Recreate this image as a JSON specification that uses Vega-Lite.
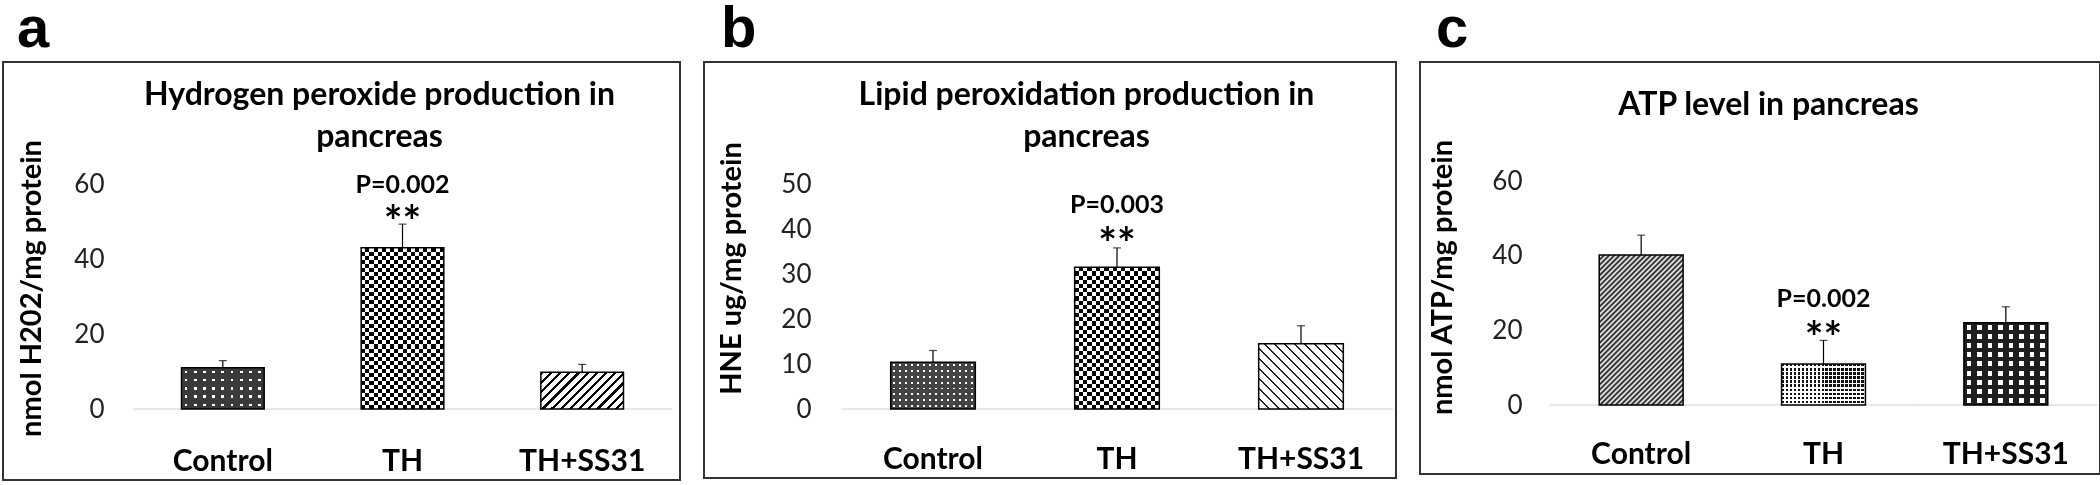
{
  "$schema": "https://vega.github.io/schema/vega-lite/v6.json",
  "background": "white",
  "padding": {"left": 2, "top": 0, "right": 0, "bottom": 0},
  "spacing": 22,
  "config": {
    "view": {"stroke": "#333", "strokeWidth": 2},
    "title": {"font": "Liberation Sans", "fontSize": 58, "fontWeight": "bold", "anchor": "start", "frame": "group", "baseline": "alphabetic", "offset": 3, "color": "#000"}
  },
  "datasets": {
    "a": [
      {"cat": "Control", "v": 11.0, "hi": 12.9, "p": "", "s": ""},
      {"cat": "TH", "v": 43.0, "hi": 49.3, "p": "P=0.002", "s": "**"},
      {"cat": "TH+SS31", "v": 9.8, "hi": 11.9, "p": "", "s": ""}
    ],
    "b": [
      {"cat": "Control", "v": 10.4, "hi": 13.0, "p": "", "s": ""},
      {"cat": "TH", "v": 31.5, "hi": 35.8, "p": "P=0.003", "s": "**"},
      {"cat": "TH+SS31", "v": 14.5, "hi": 18.5, "p": "", "s": ""}
    ],
    "c": [
      {"cat": "Control", "v": 40.2, "hi": 45.5, "p": "", "s": ""},
      {"cat": "TH", "v": 11.0, "hi": 17.3, "p": "P=0.002", "s": "**"},
      {"cat": "TH+SS31", "v": 22.0, "hi": 26.3, "p": "", "s": ""}
    ]
  },
  "hconcat": [
    {
      "title": {"text": "a", "dx": 14},
      "width": 677, "height": 418,
      "data": {"name": "a"},
      "resolve": {"axis": {"x": "independent"}},
      "layer": [
        {
          "mark": {"type": "tick", "orient": "horizontal", "size": 180, "thickness": 1.5, "color": "#d4d4d4"},
          "encoding": {
            "x": {"field": "cat", "type": "nominal", "sort": null, "scale": {"domain": ["Control", "TH", "TH+SS31"], "range": [130, 669], "paddingInner": 0.54, "paddingOuter": 0.27},
                  "axis": {"orient": "bottom", "title": null, "domain": false, "ticks": false, "labelPadding": 0, "offset": -10, "labelBaseline": "alphabetic", "labelAngle": 0, "labelFont": "Lato", "labelFontSize": 30, "labelFontWeight": "bold", "labelColor": "#000"}},
            "y": {"datum": 0, "type": "quantitative", "scale": {"domain": [0, 60], "range": [347, 122], "nice": false, "zero": false},
                  "axis": {"values": [0, 20, 40, 60], "grid": false, "domain": false, "ticks": false, "labelPadding": 0, "offset": -101, "labelFont": "Lato", "labelFontSize": 26, "labelColor": "#222",
                           "title": "nmol H202/mg protein", "titleFont": "Lato", "titleFontSize": 29, "titleFontWeight": "bold", "titleColor": "#000", "titleX": -58, "titleY": 226, "titleAngle": 270, "titleBaseline": "bottom", "titleAlign": "center"}}
          }
        },
        {
          "transform": [{"filter": "datum.cat == 'Control'"}],
          "mark": {"type": "bar", "fill": {"gradient": "linear", "x1": 0, "y1": 0, "x2": 1, "y2": 0, "stops": [
            {"offset":0,"color":"#3a3a3a"},{"offset":0.0389,"color":"#3a3a3a"},{"offset":0.0389,"color":"#fff"},{"offset":0.0722,"color":"#fff"},{"offset":0.0722,"color":"#3a3a3a"},{"offset":0.15,"color":"#3a3a3a"},{"offset":0.15,"color":"#fff"},{"offset":0.1833,"color":"#fff"},{"offset":0.1833,"color":"#3a3a3a"},{"offset":0.2611,"color":"#3a3a3a"},{"offset":0.2611,"color":"#fff"},{"offset":0.2944,"color":"#fff"},{"offset":0.2944,"color":"#3a3a3a"},{"offset":0.3722,"color":"#3a3a3a"},{"offset":0.3722,"color":"#fff"},{"offset":0.4056,"color":"#fff"},{"offset":0.4056,"color":"#3a3a3a"},{"offset":0.4833,"color":"#3a3a3a"},{"offset":0.4833,"color":"#fff"},{"offset":0.5167,"color":"#fff"},{"offset":0.5167,"color":"#3a3a3a"},{"offset":0.5944,"color":"#3a3a3a"},{"offset":0.5944,"color":"#fff"},{"offset":0.6278,"color":"#fff"},{"offset":0.6278,"color":"#3a3a3a"},{"offset":0.7056,"color":"#3a3a3a"},{"offset":0.7056,"color":"#fff"},{"offset":0.7389,"color":"#fff"},{"offset":0.7389,"color":"#3a3a3a"},{"offset":0.8167,"color":"#3a3a3a"},{"offset":0.8167,"color":"#fff"},{"offset":0.85,"color":"#fff"},{"offset":0.85,"color":"#3a3a3a"},{"offset":0.9278,"color":"#3a3a3a"},{"offset":0.9278,"color":"#fff"},{"offset":0.9611,"color":"#fff"},{"offset":0.9611,"color":"#3a3a3a"},{"offset":1,"color":"#3a3a3a"}]}},
          "encoding": {"x": {"field": "cat", "type": "nominal", "axis": null}, "y": {"field": "v", "type": "quantitative"}}
        },
        {
          "transform": [{"filter": "datum.cat == 'Control'"}],
          "mark": {"type": "bar", "blend": "darken", "fill": {"gradient": "linear", "x1": 0, "y1": 0, "x2": 0, "y2": 1, "stops": [
            {"offset":0,"color":"#3a3a3a"},{"offset":0.07,"color":"#3a3a3a"},{"offset":0.07,"color":"#fff"},{"offset":0.13,"color":"#fff"},{"offset":0.13,"color":"#3a3a3a"},{"offset":0.27,"color":"#3a3a3a"},{"offset":0.27,"color":"#fff"},{"offset":0.33,"color":"#fff"},{"offset":0.33,"color":"#3a3a3a"},{"offset":0.47,"color":"#3a3a3a"},{"offset":0.47,"color":"#fff"},{"offset":0.53,"color":"#fff"},{"offset":0.53,"color":"#3a3a3a"},{"offset":0.67,"color":"#3a3a3a"},{"offset":0.67,"color":"#fff"},{"offset":0.73,"color":"#fff"},{"offset":0.73,"color":"#3a3a3a"},{"offset":0.87,"color":"#3a3a3a"},{"offset":0.87,"color":"#fff"},{"offset":0.93,"color":"#fff"},{"offset":0.93,"color":"#3a3a3a"},{"offset":1,"color":"#3a3a3a"}]}},
          "encoding": {"x": {"field": "cat", "type": "nominal", "axis": null}, "y": {"field": "v", "type": "quantitative"}}
        },
        {
          "transform": [{"filter": "datum.cat == 'TH'"}],
          "mark": {"type": "bar", "fill": {"gradient": "linear", "x1": 0, "y1": 0, "x2": 1, "y2": 0, "stops": [
            {"offset":0,"color":"#000"},{"offset":0.05,"color":"#000"},{"offset":0.05,"color":"#fff"},{"offset":0.1,"color":"#fff"},{"offset":0.1,"color":"#000"},{"offset":0.15,"color":"#000"},{"offset":0.15,"color":"#fff"},{"offset":0.2,"color":"#fff"},{"offset":0.2,"color":"#000"},{"offset":0.25,"color":"#000"},{"offset":0.25,"color":"#fff"},{"offset":0.3,"color":"#fff"},{"offset":0.3,"color":"#000"},{"offset":0.35,"color":"#000"},{"offset":0.35,"color":"#fff"},{"offset":0.4,"color":"#fff"},{"offset":0.4,"color":"#000"},{"offset":0.45,"color":"#000"},{"offset":0.45,"color":"#fff"},{"offset":0.5,"color":"#fff"},{"offset":0.5,"color":"#000"},{"offset":0.55,"color":"#000"},{"offset":0.55,"color":"#fff"},{"offset":0.6,"color":"#fff"},{"offset":0.6,"color":"#000"},{"offset":0.65,"color":"#000"},{"offset":0.65,"color":"#fff"},{"offset":0.7,"color":"#fff"},{"offset":0.7,"color":"#000"},{"offset":0.75,"color":"#000"},{"offset":0.75,"color":"#fff"},{"offset":0.8,"color":"#fff"},{"offset":0.8,"color":"#000"},{"offset":0.85,"color":"#000"},{"offset":0.85,"color":"#fff"},{"offset":0.9,"color":"#fff"},{"offset":0.9,"color":"#000"},{"offset":0.95,"color":"#000"},{"offset":0.95,"color":"#fff"},{"offset":1,"color":"#fff"}]}},
          "encoding": {"x": {"field": "cat", "type": "nominal", "axis": null}, "y": {"field": "v", "type": "quantitative"}}
        },
        {
          "transform": [{"filter": "datum.cat == 'TH'"}],
          "mark": {"type": "bar", "blend": "difference", "fill": {"gradient": "linear", "x1": 0, "y1": 0, "x2": 0, "y2": 1, "stops": [
            {"offset":0,"color":"#fff"},{"offset":0.025,"color":"#fff"},{"offset":0.025,"color":"#000"},{"offset":0.05,"color":"#000"},
            {"offset":0.05,"color":"#fff"},{"offset":0.075,"color":"#fff"},{"offset":0.075,"color":"#000"},{"offset":0.1,"color":"#000"},
            {"offset":0.1,"color":"#fff"},{"offset":0.125,"color":"#fff"},{"offset":0.125,"color":"#000"},{"offset":0.15,"color":"#000"},
            {"offset":0.15,"color":"#fff"},{"offset":0.175,"color":"#fff"},{"offset":0.175,"color":"#000"},{"offset":0.2,"color":"#000"},
            {"offset":0.2,"color":"#fff"},{"offset":0.225,"color":"#fff"},{"offset":0.225,"color":"#000"},{"offset":0.25,"color":"#000"},
            {"offset":0.25,"color":"#fff"},{"offset":0.275,"color":"#fff"},{"offset":0.275,"color":"#000"},{"offset":0.3,"color":"#000"},
            {"offset":0.3,"color":"#fff"},{"offset":0.325,"color":"#fff"},{"offset":0.325,"color":"#000"},{"offset":0.35,"color":"#000"},
            {"offset":0.35,"color":"#fff"},{"offset":0.375,"color":"#fff"},{"offset":0.375,"color":"#000"},{"offset":0.4,"color":"#000"},
            {"offset":0.4,"color":"#fff"},{"offset":0.425,"color":"#fff"},{"offset":0.425,"color":"#000"},{"offset":0.45,"color":"#000"},
            {"offset":0.45,"color":"#fff"},{"offset":0.475,"color":"#fff"},{"offset":0.475,"color":"#000"},{"offset":0.5,"color":"#000"},
            {"offset":0.5,"color":"#fff"},{"offset":0.525,"color":"#fff"},{"offset":0.525,"color":"#000"},{"offset":0.55,"color":"#000"},
            {"offset":0.55,"color":"#fff"},{"offset":0.575,"color":"#fff"},{"offset":0.575,"color":"#000"},{"offset":0.6,"color":"#000"},
            {"offset":0.6,"color":"#fff"},{"offset":0.625,"color":"#fff"},{"offset":0.625,"color":"#000"},{"offset":0.65,"color":"#000"},
            {"offset":0.65,"color":"#fff"},{"offset":0.675,"color":"#fff"},{"offset":0.675,"color":"#000"},{"offset":0.7,"color":"#000"},
            {"offset":0.7,"color":"#fff"},{"offset":0.725,"color":"#fff"},{"offset":0.725,"color":"#000"},{"offset":0.75,"color":"#000"},
            {"offset":0.75,"color":"#fff"},{"offset":0.775,"color":"#fff"},{"offset":0.775,"color":"#000"},{"offset":0.8,"color":"#000"},
            {"offset":0.8,"color":"#fff"},{"offset":0.825,"color":"#fff"},{"offset":0.825,"color":"#000"},{"offset":0.85,"color":"#000"},
            {"offset":0.85,"color":"#fff"},{"offset":0.875,"color":"#fff"},{"offset":0.875,"color":"#000"},{"offset":0.9,"color":"#000"},
            {"offset":0.9,"color":"#fff"},{"offset":0.925,"color":"#fff"},{"offset":0.925,"color":"#000"},{"offset":0.95,"color":"#000"},
            {"offset":0.95,"color":"#fff"},{"offset":0.975,"color":"#fff"},{"offset":0.975,"color":"#000"},{"offset":1,"color":"#000"}]}},
          "encoding": {"x": {"field": "cat", "type": "nominal", "axis": null}, "y": {"field": "v", "type": "quantitative"}}
        },
        {
          "transform": [{"filter": "datum.cat == 'TH+SS31'"}],
          "mark": {"type": "bar", "fill": {"gradient": "linear", "x1": 0, "y1": 0, "x2": 1.2061, "y2": 0.5366, "stops": [
            {"offset":0,"color":"#000"},{"offset":0.0269,"color":"#000"},{"offset":0.0269,"color":"#fff"},{"offset":0.0769,"color":"#fff"},
            {"offset":0.0769,"color":"#000"},{"offset":0.1038,"color":"#000"},{"offset":0.1038,"color":"#fff"},{"offset":0.1538,"color":"#fff"},
            {"offset":0.1538,"color":"#000"},{"offset":0.1808,"color":"#000"},{"offset":0.1808,"color":"#fff"},{"offset":0.2308,"color":"#fff"},
            {"offset":0.2308,"color":"#000"},{"offset":0.2577,"color":"#000"},{"offset":0.2577,"color":"#fff"},{"offset":0.3077,"color":"#fff"},
            {"offset":0.3077,"color":"#000"},{"offset":0.3346,"color":"#000"},{"offset":0.3346,"color":"#fff"},{"offset":0.3846,"color":"#fff"},
            {"offset":0.3846,"color":"#000"},{"offset":0.4115,"color":"#000"},{"offset":0.4115,"color":"#fff"},{"offset":0.4615,"color":"#fff"},
            {"offset":0.4615,"color":"#000"},{"offset":0.4885,"color":"#000"},{"offset":0.4885,"color":"#fff"},{"offset":0.5385,"color":"#fff"},
            {"offset":0.5385,"color":"#000"},{"offset":0.5654,"color":"#000"},{"offset":0.5654,"color":"#fff"},{"offset":0.6154,"color":"#fff"},
            {"offset":0.6154,"color":"#000"},{"offset":0.6423,"color":"#000"},{"offset":0.6423,"color":"#fff"},{"offset":0.6923,"color":"#fff"},
            {"offset":0.6923,"color":"#000"},{"offset":0.7192,"color":"#000"},{"offset":0.7192,"color":"#fff"},{"offset":0.7692,"color":"#fff"},
            {"offset":0.7692,"color":"#000"},{"offset":0.7962,"color":"#000"},{"offset":0.7962,"color":"#fff"},{"offset":0.8462,"color":"#fff"},
            {"offset":0.8462,"color":"#000"},{"offset":0.8731,"color":"#000"},{"offset":0.8731,"color":"#fff"},{"offset":0.9231,"color":"#fff"},
            {"offset":0.9231,"color":"#000"},{"offset":0.95,"color":"#000"},{"offset":0.95,"color":"#fff"},{"offset":1,"color":"#fff"}]}},
          "encoding": {"x": {"field": "cat", "type": "nominal", "axis": null}, "y": {"field": "v", "type": "quantitative"}}
        },
        {
          "mark": {"type": "bar", "filled": false, "stroke": "#000", "strokeWidth": 1.5},
          "encoding": {"x": {"field": "cat", "type": "nominal", "axis": null}, "y": {"field": "v", "type": "quantitative"}}
        },
        {
          "mark": {"type": "rule", "color": "#000", "strokeWidth": 1.2},
          "encoding": {
            "x": {"field": "cat", "type": "nominal",
                  "axis": {"orient": "top", "labels": false, "ticks": false, "domain": false, "title": ["Hydrogen peroxide production in", "pancreas"], "titleFont": "Lato", "titleFontSize": 32, "titleFontWeight": "bold", "titleColor": "#000", "titleX": 376, "titleY": 42, "titleBaseline": "alphabetic", "titleAlign": "center", "titleLineHeight": 42}},
            "y": {"field": "v", "type": "quantitative"},
            "y2": {"field": "hi"}
          }
        },
        {
          "mark": {"type": "tick", "orient": "horizontal", "size": 8, "thickness": 1.2, "color": "#000"},
          "encoding": {"x": {"field": "cat", "type": "nominal", "axis": null}, "y": {"field": "hi", "type": "quantitative"}}
        },
        {
          "mark": {"type": "text", "font": "Lato", "fontSize": 25, "fontWeight": "bold", "baseline": "alphabetic", "dy": -31, "color": "#000"},
          "encoding": {"x": {"field": "cat", "type": "nominal", "axis": null}, "y": {"field": "hi", "type": "quantitative"}, "text": {"field": "p"}}
        },
        {
          "mark": {"type": "text", "font": "Lato", "fontSize": 44, "fontWeight": "bold", "baseline": "alphabetic", "dy": 13, "color": "#000"},
          "encoding": {"x": {"field": "cat", "type": "nominal", "axis": null}, "y": {"field": "hi", "type": "quantitative"}, "text": {"field": "s"}}
        }
      ]
    },
    {
      "title": {"text": "b", "dx": 17},
      "width": 692, "height": 416,
      "data": {"name": "b"},
      "resolve": {"axis": {"x": "independent"}},
      "layer": [
        {
          "mark": {"type": "tick", "orient": "horizontal", "size": 184, "thickness": 1.5, "color": "#d4d4d4"},
          "encoding": {
            "x": {"field": "cat", "type": "nominal", "sort": null, "scale": {"domain": ["Control", "TH", "TH+SS31"], "range": [137, 689], "paddingInner": 0.54, "paddingOuter": 0.27},
                  "axis": {"orient": "bottom", "title": null, "domain": false, "ticks": false, "labelPadding": 0, "offset": -10, "labelBaseline": "alphabetic", "labelAngle": 0, "labelFont": "Lato", "labelFontSize": 30, "labelFontWeight": "bold", "labelColor": "#000"}},
            "y": {"datum": 0, "type": "quantitative", "scale": {"domain": [0, 50], "range": [347, 122], "nice": false, "zero": false},
                  "axis": {"values": [0, 10, 20, 30, 40, 50], "grid": false, "domain": false, "ticks": false, "labelPadding": 0, "offset": -107, "labelFont": "Lato", "labelFontSize": 26, "labelColor": "#222",
                           "title": "HNE ug/mg protein", "titleFont": "Lato", "titleFontSize": 29, "titleFontWeight": "bold", "titleColor": "#000", "titleX": -65, "titleY": 206, "titleAngle": 270, "titleBaseline": "bottom", "titleAlign": "center"}}
          }
        },
        {
          "transform": [{"filter": "datum.cat == 'Control'"}],
          "mark": {"type": "bar", "fill": {"gradient": "linear", "x1": 0, "y1": 0, "x2": 1, "y2": 0, "stops": [
            {"offset":0,"color":"#444"},{"offset":0.025,"color":"#444"},{"offset":0.025,"color":"#fff"},{"offset":0.0464,"color":"#fff"},{"offset":0.0464,"color":"#444"},{"offset":0.0964,"color":"#444"},{"offset":0.0964,"color":"#fff"},{"offset":0.1178,"color":"#fff"},{"offset":0.1178,"color":"#444"},{"offset":0.1679,"color":"#444"},{"offset":0.1679,"color":"#fff"},{"offset":0.1893,"color":"#fff"},{"offset":0.1893,"color":"#444"},{"offset":0.2393,"color":"#444"},{"offset":0.2393,"color":"#fff"},{"offset":0.2607,"color":"#fff"},{"offset":0.2607,"color":"#444"},{"offset":0.3107,"color":"#444"},{"offset":0.3107,"color":"#fff"},{"offset":0.3321,"color":"#fff"},{"offset":0.3321,"color":"#444"},{"offset":0.3821,"color":"#444"},{"offset":0.3821,"color":"#fff"},{"offset":0.4036,"color":"#fff"},{"offset":0.4036,"color":"#444"},{"offset":0.4536,"color":"#444"},{"offset":0.4536,"color":"#fff"},{"offset":0.475,"color":"#fff"},{"offset":0.475,"color":"#444"},{"offset":0.525,"color":"#444"},{"offset":0.525,"color":"#fff"},{"offset":0.5464,"color":"#fff"},{"offset":0.5464,"color":"#444"},{"offset":0.5964,"color":"#444"},{"offset":0.5964,"color":"#fff"},{"offset":0.6179,"color":"#fff"},{"offset":0.6179,"color":"#444"},{"offset":0.6679,"color":"#444"},{"offset":0.6679,"color":"#fff"},{"offset":0.6893,"color":"#fff"},{"offset":0.6893,"color":"#444"},{"offset":0.7393,"color":"#444"},{"offset":0.7393,"color":"#fff"},{"offset":0.7607,"color":"#fff"},{"offset":0.7607,"color":"#444"},{"offset":0.8107,"color":"#444"},{"offset":0.8107,"color":"#fff"},{"offset":0.8321,"color":"#fff"},{"offset":0.8321,"color":"#444"},{"offset":0.8821,"color":"#444"},{"offset":0.8821,"color":"#fff"},{"offset":0.9036,"color":"#fff"},{"offset":0.9036,"color":"#444"},{"offset":0.9536,"color":"#444"},{"offset":0.9536,"color":"#fff"},{"offset":0.975,"color":"#fff"},{"offset":0.975,"color":"#444"},{"offset":1,"color":"#444"}]}},
          "encoding": {"x": {"field": "cat", "type": "nominal", "axis": null}, "y": {"field": "v", "type": "quantitative"}}
        },
        {
          "transform": [{"filter": "datum.cat == 'Control'"}],
          "mark": {"type": "bar", "blend": "darken", "fill": {"gradient": "linear", "x1": 0, "y1": 0, "x2": 0, "y2": 1, "stops": [
            {"offset":0,"color":"#444"},{"offset":0.0438,"color":"#444"},{"offset":0.0438,"color":"#fff"},{"offset":0.0813,"color":"#fff"},{"offset":0.0813,"color":"#444"},{"offset":0.1688,"color":"#444"},{"offset":0.1688,"color":"#fff"},{"offset":0.2063,"color":"#fff"},{"offset":0.2063,"color":"#444"},{"offset":0.2938,"color":"#444"},{"offset":0.2938,"color":"#fff"},{"offset":0.3313,"color":"#fff"},{"offset":0.3313,"color":"#444"},{"offset":0.4188,"color":"#444"},{"offset":0.4188,"color":"#fff"},{"offset":0.4563,"color":"#fff"},{"offset":0.4563,"color":"#444"},{"offset":0.5438,"color":"#444"},{"offset":0.5438,"color":"#fff"},{"offset":0.5813,"color":"#fff"},{"offset":0.5813,"color":"#444"},{"offset":0.6688,"color":"#444"},{"offset":0.6688,"color":"#fff"},{"offset":0.7063,"color":"#fff"},{"offset":0.7063,"color":"#444"},{"offset":0.7938,"color":"#444"},{"offset":0.7938,"color":"#fff"},{"offset":0.8313,"color":"#fff"},{"offset":0.8313,"color":"#444"},{"offset":0.9188,"color":"#444"},{"offset":0.9188,"color":"#fff"},{"offset":0.9563,"color":"#fff"},{"offset":0.9563,"color":"#444"},{"offset":1,"color":"#444"}]}},
          "encoding": {"x": {"field": "cat", "type": "nominal", "axis": null}, "y": {"field": "v", "type": "quantitative"}}
        },
        {
          "transform": [{"filter": "datum.cat == 'TH'"}],
          "mark": {"type": "bar", "fill": {"gradient": "linear", "x1": 0, "y1": 0, "x2": 1, "y2": 0, "stops": [
            {"offset":0,"color":"#000"},{"offset":0.05,"color":"#000"},{"offset":0.05,"color":"#fff"},{"offset":0.1,"color":"#fff"},{"offset":0.1,"color":"#000"},{"offset":0.15,"color":"#000"},{"offset":0.15,"color":"#fff"},{"offset":0.2,"color":"#fff"},{"offset":0.2,"color":"#000"},{"offset":0.25,"color":"#000"},{"offset":0.25,"color":"#fff"},{"offset":0.3,"color":"#fff"},{"offset":0.3,"color":"#000"},{"offset":0.35,"color":"#000"},{"offset":0.35,"color":"#fff"},{"offset":0.4,"color":"#fff"},{"offset":0.4,"color":"#000"},{"offset":0.45,"color":"#000"},{"offset":0.45,"color":"#fff"},{"offset":0.5,"color":"#fff"},{"offset":0.5,"color":"#000"},{"offset":0.55,"color":"#000"},{"offset":0.55,"color":"#fff"},{"offset":0.6,"color":"#fff"},{"offset":0.6,"color":"#000"},{"offset":0.65,"color":"#000"},{"offset":0.65,"color":"#fff"},{"offset":0.7,"color":"#fff"},{"offset":0.7,"color":"#000"},{"offset":0.75,"color":"#000"},{"offset":0.75,"color":"#fff"},{"offset":0.8,"color":"#fff"},{"offset":0.8,"color":"#000"},{"offset":0.85,"color":"#000"},{"offset":0.85,"color":"#fff"},{"offset":0.9,"color":"#fff"},{"offset":0.9,"color":"#000"},{"offset":0.95,"color":"#000"},{"offset":0.95,"color":"#fff"},{"offset":1,"color":"#fff"}]}},
          "encoding": {"x": {"field": "cat", "type": "nominal", "axis": null}, "y": {"field": "v", "type": "quantitative"}}
        },
        {
          "transform": [{"filter": "datum.cat == 'TH'"}],
          "mark": {"type": "bar", "blend": "difference", "fill": {"gradient": "linear", "x1": 0, "y1": 0, "x2": 0, "y2": 1, "stops": [
            {"offset":0,"color":"#fff"},{"offset":0.0294,"color":"#fff"},{"offset":0.0294,"color":"#000"},{"offset":0.0588,"color":"#000"},
            {"offset":0.0588,"color":"#fff"},{"offset":0.0882,"color":"#fff"},{"offset":0.0882,"color":"#000"},{"offset":0.1176,"color":"#000"},
            {"offset":0.1176,"color":"#fff"},{"offset":0.1471,"color":"#fff"},{"offset":0.1471,"color":"#000"},{"offset":0.1765,"color":"#000"},
            {"offset":0.1765,"color":"#fff"},{"offset":0.2059,"color":"#fff"},{"offset":0.2059,"color":"#000"},{"offset":0.2353,"color":"#000"},
            {"offset":0.2353,"color":"#fff"},{"offset":0.2647,"color":"#fff"},{"offset":0.2647,"color":"#000"},{"offset":0.2941,"color":"#000"},
            {"offset":0.2941,"color":"#fff"},{"offset":0.3235,"color":"#fff"},{"offset":0.3235,"color":"#000"},{"offset":0.3529,"color":"#000"},
            {"offset":0.3529,"color":"#fff"},{"offset":0.3824,"color":"#fff"},{"offset":0.3824,"color":"#000"},{"offset":0.4118,"color":"#000"},
            {"offset":0.4118,"color":"#fff"},{"offset":0.4412,"color":"#fff"},{"offset":0.4412,"color":"#000"},{"offset":0.4706,"color":"#000"},
            {"offset":0.4706,"color":"#fff"},{"offset":0.5,"color":"#fff"},{"offset":0.5,"color":"#000"},{"offset":0.5294,"color":"#000"},
            {"offset":0.5294,"color":"#fff"},{"offset":0.5588,"color":"#fff"},{"offset":0.5588,"color":"#000"},{"offset":0.5882,"color":"#000"},
            {"offset":0.5882,"color":"#fff"},{"offset":0.6176,"color":"#fff"},{"offset":0.6176,"color":"#000"},{"offset":0.6471,"color":"#000"},
            {"offset":0.6471,"color":"#fff"},{"offset":0.6765,"color":"#fff"},{"offset":0.6765,"color":"#000"},{"offset":0.7059,"color":"#000"},
            {"offset":0.7059,"color":"#fff"},{"offset":0.7353,"color":"#fff"},{"offset":0.7353,"color":"#000"},{"offset":0.7647,"color":"#000"},
            {"offset":0.7647,"color":"#fff"},{"offset":0.7941,"color":"#fff"},{"offset":0.7941,"color":"#000"},{"offset":0.8235,"color":"#000"},
            {"offset":0.8235,"color":"#fff"},{"offset":0.8529,"color":"#fff"},{"offset":0.8529,"color":"#000"},{"offset":0.8824,"color":"#000"},
            {"offset":0.8824,"color":"#fff"},{"offset":0.9118,"color":"#fff"},{"offset":0.9118,"color":"#000"},{"offset":0.9412,"color":"#000"},
            {"offset":0.9412,"color":"#fff"},{"offset":0.9706,"color":"#fff"},{"offset":0.9706,"color":"#000"},{"offset":1,"color":"#000"}]}},
          "encoding": {"x": {"field": "cat", "type": "nominal", "axis": null}, "y": {"field": "v", "type": "quantitative"}}
        },
        {
          "transform": [{"filter": "datum.cat == 'TH+SS31'"}],
          "mark": {"type": "bar", "fill": {"gradient": "linear", "x1": 0, "y1": 1, "x2": 1.1106, "y2": 0.1434, "stops": [
            {"offset":0,"color":"#222"},{"offset":0.0133,"color":"#222"},{"offset":0.0133,"color":"#fff"},{"offset":0.0667,"color":"#fff"},
            {"offset":0.0667,"color":"#222"},{"offset":0.08,"color":"#222"},{"offset":0.08,"color":"#fff"},{"offset":0.1333,"color":"#fff"},
            {"offset":0.1333,"color":"#222"},{"offset":0.1467,"color":"#222"},{"offset":0.1467,"color":"#fff"},{"offset":0.2,"color":"#fff"},
            {"offset":0.2,"color":"#222"},{"offset":0.2133,"color":"#222"},{"offset":0.2133,"color":"#fff"},{"offset":0.2667,"color":"#fff"},
            {"offset":0.2667,"color":"#222"},{"offset":0.28,"color":"#222"},{"offset":0.28,"color":"#fff"},{"offset":0.3333,"color":"#fff"},
            {"offset":0.3333,"color":"#222"},{"offset":0.3467,"color":"#222"},{"offset":0.3467,"color":"#fff"},{"offset":0.4,"color":"#fff"},
            {"offset":0.4,"color":"#222"},{"offset":0.4133,"color":"#222"},{"offset":0.4133,"color":"#fff"},{"offset":0.4667,"color":"#fff"},
            {"offset":0.4667,"color":"#222"},{"offset":0.48,"color":"#222"},{"offset":0.48,"color":"#fff"},{"offset":0.5333,"color":"#fff"},
            {"offset":0.5333,"color":"#222"},{"offset":0.5467,"color":"#222"},{"offset":0.5467,"color":"#fff"},{"offset":0.6,"color":"#fff"},
            {"offset":0.6,"color":"#222"},{"offset":0.6133,"color":"#222"},{"offset":0.6133,"color":"#fff"},{"offset":0.6667,"color":"#fff"},
            {"offset":0.6667,"color":"#222"},{"offset":0.68,"color":"#222"},{"offset":0.68,"color":"#fff"},{"offset":0.7333,"color":"#fff"},
            {"offset":0.7333,"color":"#222"},{"offset":0.7467,"color":"#222"},{"offset":0.7467,"color":"#fff"},{"offset":0.8,"color":"#fff"},
            {"offset":0.8,"color":"#222"},{"offset":0.8133,"color":"#222"},{"offset":0.8133,"color":"#fff"},{"offset":0.8667,"color":"#fff"},
            {"offset":0.8667,"color":"#222"},{"offset":0.88,"color":"#222"},{"offset":0.88,"color":"#fff"},{"offset":0.9333,"color":"#fff"},
            {"offset":0.9333,"color":"#222"},{"offset":0.9467,"color":"#222"},{"offset":0.9467,"color":"#fff"},{"offset":1,"color":"#fff"}]}},
          "encoding": {"x": {"field": "cat", "type": "nominal", "axis": null}, "y": {"field": "v", "type": "quantitative"}}
        },
        {
          "mark": {"type": "bar", "filled": false, "stroke": "#000", "strokeWidth": 1.5},
          "encoding": {"x": {"field": "cat", "type": "nominal", "axis": null}, "y": {"field": "v", "type": "quantitative"}}
        },
        {
          "mark": {"type": "rule", "color": "#000", "strokeWidth": 1.2},
          "encoding": {
            "x": {"field": "cat", "type": "nominal",
                  "axis": {"orient": "top", "labels": false, "ticks": false, "domain": false, "title": ["Lipid peroxidation production in", "pancreas"], "titleFont": "Lato", "titleFontSize": 32, "titleFontWeight": "bold", "titleColor": "#000", "titleX": 382, "titleY": 42, "titleBaseline": "alphabetic", "titleAlign": "center", "titleLineHeight": 42}},
            "y": {"field": "v", "type": "quantitative"},
            "y2": {"field": "hi"}
          }
        },
        {
          "mark": {"type": "tick", "orient": "horizontal", "size": 8, "thickness": 1.2, "color": "#000"},
          "encoding": {"x": {"field": "cat", "type": "nominal", "axis": null}, "y": {"field": "hi", "type": "quantitative"}}
        },
        {
          "mark": {"type": "text", "font": "Lato", "fontSize": 25, "fontWeight": "bold", "baseline": "alphabetic", "dy": -35, "color": "#000"},
          "encoding": {"x": {"field": "cat", "type": "nominal", "axis": null}, "y": {"field": "hi", "type": "quantitative"}, "text": {"field": "p"}}
        },
        {
          "mark": {"type": "text", "font": "Lato", "fontSize": 44, "fontWeight": "bold", "baseline": "alphabetic", "dy": 11, "color": "#000"},
          "encoding": {"x": {"field": "cat", "type": "nominal", "axis": null}, "y": {"field": "hi", "type": "quantitative"}, "text": {"field": "s"}}
        }
      ]
    },
    {
      "title": {"text": "c", "dx": 16},
      "width": 680, "height": 412,
      "data": {"name": "c"},
      "resolve": {"axis": {"x": "independent"}},
      "layer": [
        {
          "mark": {"type": "tick", "orient": "horizontal", "size": 183, "thickness": 1.5, "color": "#d4d4d4"},
          "encoding": {
            "x": {"field": "cat", "type": "nominal", "sort": null, "scale": {"domain": ["Control", "TH", "TH+SS31"], "range": [130, 677], "paddingInner": 0.54, "paddingOuter": 0.27},
                  "axis": {"orient": "bottom", "title": null, "domain": false, "ticks": false, "labelPadding": 0, "offset": -11, "labelBaseline": "alphabetic", "labelAngle": 0, "labelFont": "Lato", "labelFontSize": 30, "labelFontWeight": "bold", "labelColor": "#000"}},
            "y": {"datum": 0, "type": "quantitative", "scale": {"domain": [0, 60], "range": [343, 119], "nice": false, "zero": false},
                  "axis": {"values": [0, 20, 40, 60], "grid": false, "domain": false, "ticks": false, "labelPadding": 0, "offset": -102, "labelFont": "Lato", "labelFontSize": 26, "labelColor": "#222",
                           "title": "nmol ATP/mg protein", "titleFont": "Lato", "titleFontSize": 29, "titleFontWeight": "bold", "titleColor": "#000", "titleX": -65, "titleY": 215, "titleAngle": 270, "titleBaseline": "bottom", "titleAlign": "center"}}
          }
        },
        {
          "transform": [{"filter": "datum.cat == 'Control'"}],
          "mark": {"type": "bar", "fill": {"gradient": "linear", "x1": 0, "y1": 0, "x2": 0.6643, "y2": 1.1877, "stops": [
            {"offset":0,"color":"#111"},{"offset":0.0111,"color":"#fff"},{"offset":0.0222,"color":"#111"},{"offset":0.0333,"color":"#fff"},{"offset":0.0444,"color":"#111"},{"offset":0.0556,"color":"#fff"},{"offset":0.0667,"color":"#111"},{"offset":0.0778,"color":"#fff"},{"offset":0.0889,"color":"#111"},{"offset":0.1,"color":"#fff"},
            {"offset":0.1111,"color":"#111"},{"offset":0.1222,"color":"#fff"},{"offset":0.1333,"color":"#111"},{"offset":0.1444,"color":"#fff"},{"offset":0.1556,"color":"#111"},{"offset":0.1667,"color":"#fff"},{"offset":0.1778,"color":"#111"},{"offset":0.1889,"color":"#fff"},{"offset":0.2,"color":"#111"},{"offset":0.2111,"color":"#fff"},
            {"offset":0.2222,"color":"#111"},{"offset":0.2333,"color":"#fff"},{"offset":0.2444,"color":"#111"},{"offset":0.2556,"color":"#fff"},{"offset":0.2667,"color":"#111"},{"offset":0.2778,"color":"#fff"},{"offset":0.2889,"color":"#111"},{"offset":0.3,"color":"#fff"},{"offset":0.3111,"color":"#111"},{"offset":0.3222,"color":"#fff"},
            {"offset":0.3333,"color":"#111"},{"offset":0.3444,"color":"#fff"},{"offset":0.3556,"color":"#111"},{"offset":0.3667,"color":"#fff"},{"offset":0.3778,"color":"#111"},{"offset":0.3889,"color":"#fff"},{"offset":0.4,"color":"#111"},{"offset":0.4111,"color":"#fff"},{"offset":0.4222,"color":"#111"},{"offset":0.4333,"color":"#fff"},
            {"offset":0.4444,"color":"#111"},{"offset":0.4556,"color":"#fff"},{"offset":0.4667,"color":"#111"},{"offset":0.4778,"color":"#fff"},{"offset":0.4889,"color":"#111"},{"offset":0.5,"color":"#fff"},{"offset":0.5111,"color":"#111"},{"offset":0.5222,"color":"#fff"},{"offset":0.5333,"color":"#111"},{"offset":0.5444,"color":"#fff"},
            {"offset":0.5556,"color":"#111"},{"offset":0.5667,"color":"#fff"},{"offset":0.5778,"color":"#111"},{"offset":0.5889,"color":"#fff"},{"offset":0.6,"color":"#111"},{"offset":0.6111,"color":"#fff"},{"offset":0.6222,"color":"#111"},{"offset":0.6333,"color":"#fff"},{"offset":0.6444,"color":"#111"},{"offset":0.6556,"color":"#fff"},
            {"offset":0.6667,"color":"#111"},{"offset":0.6778,"color":"#fff"},{"offset":0.6889,"color":"#111"},{"offset":0.7,"color":"#fff"},{"offset":0.7111,"color":"#111"},{"offset":0.7222,"color":"#fff"},{"offset":0.7333,"color":"#111"},{"offset":0.7444,"color":"#fff"},{"offset":0.7556,"color":"#111"},{"offset":0.7667,"color":"#fff"},
            {"offset":0.7778,"color":"#111"},{"offset":0.7889,"color":"#fff"},{"offset":0.8,"color":"#111"},{"offset":0.8111,"color":"#fff"},{"offset":0.8222,"color":"#111"},{"offset":0.8333,"color":"#fff"},{"offset":0.8444,"color":"#111"},{"offset":0.8556,"color":"#fff"},{"offset":0.8667,"color":"#111"},{"offset":0.8778,"color":"#fff"},
            {"offset":0.8889,"color":"#111"},{"offset":0.9,"color":"#fff"},{"offset":0.9111,"color":"#111"},{"offset":0.9222,"color":"#fff"},{"offset":0.9333,"color":"#111"},{"offset":0.9444,"color":"#fff"},{"offset":0.9556,"color":"#111"},{"offset":0.9667,"color":"#fff"},{"offset":0.9778,"color":"#111"},{"offset":0.9889,"color":"#fff"},
            {"offset":1,"color":"#111"}]}},
          "encoding": {"x": {"field": "cat", "type": "nominal", "axis": null}, "y": {"field": "v", "type": "quantitative"}}
        },
        {
          "transform": [{"filter": "datum.cat == 'TH'"}],
          "mark": {"type": "bar", "fill": {"gradient": "linear", "x1": 0, "y1": 0, "x2": 1, "y2": 0, "stops": [
            {"offset":0,"color":"#111"},{"offset":0.0286,"color":"#111"},{"offset":0.0286,"color":"#fff"},{"offset":0.0476,"color":"#fff"},
            {"offset":0.0476,"color":"#111"},{"offset":0.0762,"color":"#111"},{"offset":0.0762,"color":"#fff"},{"offset":0.0952,"color":"#fff"},
            {"offset":0.0952,"color":"#111"},{"offset":0.1238,"color":"#111"},{"offset":0.1238,"color":"#fff"},{"offset":0.1429,"color":"#fff"},
            {"offset":0.1429,"color":"#111"},{"offset":0.1714,"color":"#111"},{"offset":0.1714,"color":"#fff"},{"offset":0.1905,"color":"#fff"},
            {"offset":0.1905,"color":"#111"},{"offset":0.219,"color":"#111"},{"offset":0.219,"color":"#fff"},{"offset":0.2381,"color":"#fff"},
            {"offset":0.2381,"color":"#111"},{"offset":0.2667,"color":"#111"},{"offset":0.2667,"color":"#fff"},{"offset":0.2857,"color":"#fff"},
            {"offset":0.2857,"color":"#111"},{"offset":0.3143,"color":"#111"},{"offset":0.3143,"color":"#fff"},{"offset":0.3333,"color":"#fff"},
            {"offset":0.3333,"color":"#111"},{"offset":0.3619,"color":"#111"},{"offset":0.3619,"color":"#fff"},{"offset":0.381,"color":"#fff"},
            {"offset":0.381,"color":"#111"},{"offset":0.4095,"color":"#111"},{"offset":0.4095,"color":"#fff"},{"offset":0.4286,"color":"#fff"},
            {"offset":0.4286,"color":"#111"},{"offset":0.4571,"color":"#111"},{"offset":0.4571,"color":"#fff"},{"offset":0.4762,"color":"#fff"},
            {"offset":0.4762,"color":"#111"},{"offset":0.5048,"color":"#111"},{"offset":0.5048,"color":"#fff"},{"offset":0.5238,"color":"#fff"},
            {"offset":0.5238,"color":"#111"},{"offset":0.5524,"color":"#111"},{"offset":0.5524,"color":"#fff"},{"offset":0.5714,"color":"#fff"},
            {"offset":0.5714,"color":"#111"},{"offset":0.6,"color":"#111"},{"offset":0.6,"color":"#fff"},{"offset":0.619,"color":"#fff"},
            {"offset":0.619,"color":"#111"},{"offset":0.6476,"color":"#111"},{"offset":0.6476,"color":"#fff"},{"offset":0.6667,"color":"#fff"},
            {"offset":0.6667,"color":"#111"},{"offset":0.6952,"color":"#111"},{"offset":0.6952,"color":"#fff"},{"offset":0.7143,"color":"#fff"},
            {"offset":0.7143,"color":"#111"},{"offset":0.7429,"color":"#111"},{"offset":0.7429,"color":"#fff"},{"offset":0.7619,"color":"#fff"},
            {"offset":0.7619,"color":"#111"},{"offset":0.7905,"color":"#111"},{"offset":0.7905,"color":"#fff"},{"offset":0.8095,"color":"#fff"},
            {"offset":0.8095,"color":"#111"},{"offset":0.8381,"color":"#111"},{"offset":0.8381,"color":"#fff"},{"offset":0.8571,"color":"#fff"},
            {"offset":0.8571,"color":"#111"},{"offset":0.8857,"color":"#111"},{"offset":0.8857,"color":"#fff"},{"offset":0.9048,"color":"#fff"},
            {"offset":0.9048,"color":"#111"},{"offset":0.9333,"color":"#111"},{"offset":0.9333,"color":"#fff"},{"offset":0.9524,"color":"#fff"},
            {"offset":0.9524,"color":"#111"},{"offset":0.981,"color":"#111"},{"offset":0.981,"color":"#fff"},{"offset":1,"color":"#fff"}]}},
          "encoding": {"x": {"field": "cat", "type": "nominal", "axis": null}, "y": {"field": "v", "type": "quantitative"}}
        },
        {
          "transform": [{"filter": "datum.cat == 'TH'"}],
          "mark": {"type": "bar", "blend": "lighten", "fill": {"gradient": "linear", "x1": 0, "y1": 0, "x2": 0, "y2": 1, "stops": [
            {"offset":0,"color":"#111"},{"offset":0.06,"color":"#111"},{"offset":0.06,"color":"#fff"},{"offset":0.1,"color":"#fff"},
            {"offset":0.1,"color":"#111"},{"offset":0.16,"color":"#111"},{"offset":0.16,"color":"#fff"},{"offset":0.2,"color":"#fff"},
            {"offset":0.2,"color":"#111"},{"offset":0.26,"color":"#111"},{"offset":0.26,"color":"#fff"},{"offset":0.3,"color":"#fff"},
            {"offset":0.3,"color":"#111"},{"offset":0.36,"color":"#111"},{"offset":0.36,"color":"#fff"},{"offset":0.4,"color":"#fff"},
            {"offset":0.4,"color":"#111"},{"offset":0.46,"color":"#111"},{"offset":0.46,"color":"#fff"},{"offset":0.5,"color":"#fff"},
            {"offset":0.5,"color":"#111"},{"offset":0.56,"color":"#111"},{"offset":0.56,"color":"#fff"},{"offset":0.6,"color":"#fff"},
            {"offset":0.6,"color":"#111"},{"offset":0.66,"color":"#111"},{"offset":0.66,"color":"#fff"},{"offset":0.7,"color":"#fff"},
            {"offset":0.7,"color":"#111"},{"offset":0.76,"color":"#111"},{"offset":0.76,"color":"#fff"},{"offset":0.8,"color":"#fff"},
            {"offset":0.8,"color":"#111"},{"offset":0.86,"color":"#111"},{"offset":0.86,"color":"#fff"},{"offset":0.9,"color":"#fff"},
            {"offset":0.9,"color":"#111"},{"offset":0.96,"color":"#111"},{"offset":0.96,"color":"#fff"},{"offset":1,"color":"#fff"}]}},
          "encoding": {"x": {"field": "cat", "type": "nominal", "axis": null}, "y": {"field": "v", "type": "quantitative"}}
        },
        {
          "transform": [{"filter": "datum.cat == 'TH+SS31'"}],
          "mark": {"type": "bar", "fill": {"gradient": "linear", "x1": 0, "y1": 0, "x2": 1, "y2": 0, "stops": [
            {"offset":0,"color":"#1e1e1e"},{"offset":0.0345,"color":"#1e1e1e"},{"offset":0.0345,"color":"#fff"},{"offset":0.0905,"color":"#fff"},{"offset":0.0905,"color":"#1e1e1e"},{"offset":0.1595,"color":"#1e1e1e"},{"offset":0.1595,"color":"#fff"},{"offset":0.2155,"color":"#fff"},{"offset":0.2155,"color":"#1e1e1e"},{"offset":0.2845,"color":"#1e1e1e"},{"offset":0.2845,"color":"#fff"},{"offset":0.3405,"color":"#fff"},{"offset":0.3405,"color":"#1e1e1e"},{"offset":0.4095,"color":"#1e1e1e"},{"offset":0.4095,"color":"#fff"},{"offset":0.4655,"color":"#fff"},{"offset":0.4655,"color":"#1e1e1e"},{"offset":0.5345,"color":"#1e1e1e"},{"offset":0.5345,"color":"#fff"},{"offset":0.5905,"color":"#fff"},{"offset":0.5905,"color":"#1e1e1e"},{"offset":0.6595,"color":"#1e1e1e"},{"offset":0.6595,"color":"#fff"},{"offset":0.7155,"color":"#fff"},{"offset":0.7155,"color":"#1e1e1e"},{"offset":0.7845,"color":"#1e1e1e"},{"offset":0.7845,"color":"#fff"},{"offset":0.8405,"color":"#fff"},{"offset":0.8405,"color":"#1e1e1e"},{"offset":0.9095,"color":"#1e1e1e"},{"offset":0.9095,"color":"#fff"},{"offset":0.9655,"color":"#fff"},{"offset":0.9655,"color":"#1e1e1e"},{"offset":1,"color":"#1e1e1e"}]}},
          "encoding": {"x": {"field": "cat", "type": "nominal", "axis": null}, "y": {"field": "v", "type": "quantitative"}}
        },
        {
          "transform": [{"filter": "datum.cat == 'TH+SS31'"}],
          "mark": {"type": "bar", "blend": "darken", "fill": {"gradient": "linear", "x1": 0, "y1": 0, "x2": 0, "y2": 1, "stops": [
            {"offset":0,"color":"#1e1e1e"},{"offset":0.025,"color":"#1e1e1e"},{"offset":0.025,"color":"#fff"},{"offset":0.0862,"color":"#fff"},{"offset":0.0862,"color":"#1e1e1e"},{"offset":0.1361,"color":"#1e1e1e"},{"offset":0.1361,"color":"#fff"},{"offset":0.1973,"color":"#fff"},{"offset":0.1973,"color":"#1e1e1e"},{"offset":0.2472,"color":"#1e1e1e"},{"offset":0.2472,"color":"#fff"},{"offset":0.3084,"color":"#fff"},{"offset":0.3084,"color":"#1e1e1e"},{"offset":0.3583,"color":"#1e1e1e"},{"offset":0.3583,"color":"#fff"},{"offset":0.4195,"color":"#fff"},{"offset":0.4195,"color":"#1e1e1e"},{"offset":0.4694,"color":"#1e1e1e"},{"offset":0.4694,"color":"#fff"},{"offset":0.5306,"color":"#fff"},{"offset":0.5306,"color":"#1e1e1e"},{"offset":0.5805,"color":"#1e1e1e"},{"offset":0.5805,"color":"#fff"},{"offset":0.6417,"color":"#fff"},{"offset":0.6417,"color":"#1e1e1e"},{"offset":0.6916,"color":"#1e1e1e"},{"offset":0.6916,"color":"#fff"},{"offset":0.7528,"color":"#fff"},{"offset":0.7528,"color":"#1e1e1e"},{"offset":0.8027,"color":"#1e1e1e"},{"offset":0.8027,"color":"#fff"},{"offset":0.8639,"color":"#fff"},{"offset":0.8639,"color":"#1e1e1e"},{"offset":0.9138,"color":"#1e1e1e"},{"offset":0.9138,"color":"#fff"},{"offset":0.975,"color":"#fff"},{"offset":0.975,"color":"#1e1e1e"},{"offset":1,"color":"#1e1e1e"}]}},
          "encoding": {"x": {"field": "cat", "type": "nominal", "axis": null}, "y": {"field": "v", "type": "quantitative"}}
        },
        {
          "mark": {"type": "bar", "filled": false, "stroke": "#000", "strokeWidth": 1.5},
          "encoding": {"x": {"field": "cat", "type": "nominal", "axis": null}, "y": {"field": "v", "type": "quantitative"}}
        },
        {
          "mark": {"type": "rule", "color": "#000", "strokeWidth": 1.2},
          "encoding": {
            "x": {"field": "cat", "type": "nominal",
                  "axis": {"orient": "top", "labels": false, "ticks": false, "domain": false, "title": "ATP level in pancreas", "titleFont": "Lato", "titleFontSize": 32, "titleFontWeight": "bold", "titleColor": "#000", "titleX": 348, "titleY": 52, "titleBaseline": "alphabetic", "titleAlign": "center"}},
            "y": {"field": "v", "type": "quantitative"},
            "y2": {"field": "hi"}
          }
        },
        {
          "mark": {"type": "tick", "orient": "horizontal", "size": 8, "thickness": 1.2, "color": "#000"},
          "encoding": {"x": {"field": "cat", "type": "nominal", "axis": null}, "y": {"field": "hi", "type": "quantitative"}}
        },
        {
          "mark": {"type": "text", "font": "Lato", "fontSize": 25, "fontWeight": "bold", "baseline": "alphabetic", "dy": -33, "color": "#000"},
          "encoding": {"x": {"field": "cat", "type": "nominal", "axis": null}, "y": {"field": "hi", "type": "quantitative"}, "text": {"field": "p"}}
        },
        {
          "mark": {"type": "text", "font": "Lato", "fontSize": 44, "fontWeight": "bold", "baseline": "alphabetic", "dy": 13, "color": "#000"},
          "encoding": {"x": {"field": "cat", "type": "nominal", "axis": null}, "y": {"field": "hi", "type": "quantitative"}, "text": {"field": "s"}}
        }
      ]
    }
  ]
}
